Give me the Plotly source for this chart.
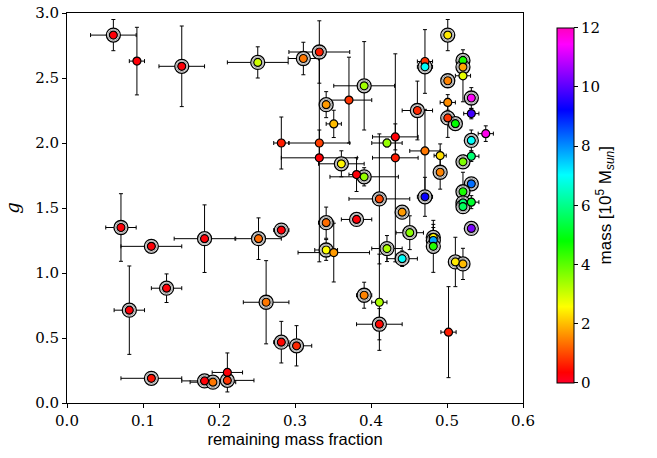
import plotly.graph_objects as go

# remaining mass fraction, g, errors, mass [1e5 Msun], ring flag
x = [0.061, 0.092, 0.151, 0.251, 0.311, 0.332, 0.341, 0.371, 0.351, 0.391,
     0.282, 0.332, 0.332, 0.361, 0.381, 0.391, 0.411, 0.432, 0.421, 0.432,
     0.461, 0.471, 0.471, 0.471, 0.471, 0.501, 0.501, 0.501, 0.501, 0.511,
     0.491, 0.491, 0.521, 0.521, 0.521, 0.532, 0.532, 0.551, 0.532, 0.532,
     0.521, 0.532, 0.521, 0.521, 0.521, 0.532, 0.532, 0.482, 0.482, 0.482,
     0.511, 0.521, 0.502, 0.441, 0.451, 0.441, 0.421, 0.411, 0.411, 0.391,
     0.381, 0.341, 0.341, 0.351, 0.282, 0.262, 0.282, 0.302, 0.252, 0.181,
     0.071, 0.111, 0.131, 0.082, 0.111, 0.181, 0.192, 0.211, 0.211]
g = [2.83, 2.63, 2.59, 2.62, 2.65, 2.70, 2.295, 2.33, 2.147, 2.44,
     2.00, 2.00, 1.886, 1.84, 1.757, 1.74, 1.57, 2.047, 2.00, 1.886,
     2.25, 2.627, 2.586, 1.939, 1.586, 2.83, 2.479, 2.312, 2.193, 2.149,
     1.903, 1.775, 2.635, 2.584, 2.517, 2.346, 2.226, 2.072, 2.02, 1.898,
     1.855, 1.686, 1.625, 1.54, 1.51, 1.545, 1.343, 1.274, 1.25, 1.205,
     1.085, 1.07, 0.545, 1.468, 1.31, 1.11, 1.188, 0.775, 0.606, 0.829,
     1.412, 1.387, 1.177, 1.157, 1.33, 0.775, 0.468, 0.44, 1.264, 1.264,
     1.35, 1.205, 0.883, 0.714, 0.19, 0.17, 0.16, 0.235, 0.174]
x_err = [0.03, 0.01, 0.03, 0.04, 0.02, 0.04, 0.005, 0.03, 0.01, 0.04,
         0.01, 0.04, 0.05, 0.03, 0.01, 0.045, 0.04, 0.03, 0.02, 0.03,
         0.02, 0.01, 0.01, 0.02, 0.01, 0.005, 0.005, 0.01, 0.005, 0.005,
         0.008, 0.005, 0.005, 0.005, 0.01, 0.005, 0.01, 0.01, 0.005, 0.01,
         0.005, 0.005, 0.005, 0.005, 0.005, 0.01, 0.005, 0.005, 0.005, 0.005,
         0.005, 0.005, 0.01, 0.005, 0.018, 0.02, 0.02, 0.01, 0.03, 0.01,
         0.02, 0.01, 0.015, 0.047, 0.01, 0.03, 0.01, 0.02, 0.03, 0.04,
         0.02, 0.04, 0.02, 0.02, 0.04, 0.03, 0.03, 0.02, 0.035]
g_err = [0.12, 0.26, 0.31, 0.12, 0.125, 0.24, 0.1, 0.33, 0.105, 0.34,
         0.2, 0.1, 0.8, 0.1, 0.13, 0.07, 0.5, 0.1, 0.03, 0.8,
         0.226, 0.245, 0.05, 0.32, 0.15, 0.12, 0.05, 0.06, 0.15, 0.04,
         0.09, 0.13, 0.05, 0.05, 0.2, 0.08, 0.04, 0.06, 0.08, 0.04,
         0.05, 0.04, 0.15, 0.05, 0.05, 0.05, 0.04, 0.1, 0.1, 0.2,
         0.19, 0.12, 0.35, 0.05, 0.13, 0.06, 0.1, 0.37, 0.12, 0.1,
         0.03, 0.12, 0.08, 0.226, 0.05, 0.32, 0.16, 0.155, 0.16, 0.26,
         0.26, 0.03, 0.11, 0.34, 0.04, 0.03, 0.03, 0.15, 0.04]
mass = [0.3, 0.3, 0.3, 3.0, 1.4, 0.6, 1.7, 0.8, 2.0, 3.4,
        0.6, 0.9, 0.3, 2.5, 0.3, 3.5, 1.0, 0.3, 3.5, 0.6,
        0.7, 0.8, 7.0, 1.4, 9.3, 2.4, 1.5, 1.6, 0.8, 4.8,
        2.3, 1.5, 4.6, 1.8, 2.8, 11.5, 9.8, 11.6, 7.0, 5.8,
        3.7, 8.3, 4.6, 5.8, 5.6, 5.2, 10.3, 2.5, 7.8, 4.5,
        2.4, 2.0, 0.6, 1.7, 3.6, 7.0, 3.3, 3.3, 0.4, 1.5,
        0.3, 1.3, 2.6, 1.7, 0.3, 1.4, 0.4, 0.7, 1.3, 0.3,
        0.3, 0.3, 0.3, 0.3, 0.5, 0.3, 1.4, 0.3, 0.8]
ring = [1, 0, 1, 1, 1, 1, 1, 0, 0, 1,
        0, 0, 0, 1, 0, 1, 1, 0, 0, 0,
        1, 0, 1, 0, 1, 1, 1, 0, 1, 1,
        0, 1, 1, 1, 0, 1, 0, 0, 1, 0,
        1, 1, 1, 1, 1, 0, 1, 1, 1, 1,
        1, 1, 0, 1, 1, 1, 1, 0, 1, 1,
        1, 1, 1, 0, 1, 1, 1, 1, 1, 1,
        1, 1, 1, 1, 1, 1, 1, 0, 1]

x_ticks = [0.0, 0.1, 0.2, 0.3, 0.4, 0.5, 0.6]
y_ticks = [0.0, 0.5, 1.0, 1.5, 2.0, 2.5, 3.0]
cb_ticks = [0, 2, 4, 6, 8, 10, 12]

gist_rainbow = [[0.0, 'rgb(255,0,41)'], [0.03, 'rgb(255,0,0)'], [0.215, 'rgb(255,255,0)'],
                [0.4, 'rgb(0,255,0)'], [0.586, 'rgb(0,255,255)'], [0.77, 'rgb(0,0,255)'],
                [0.954, 'rgb(255,0,255)'], [1.0, 'rgb(255,0,191)']]

serif = "DejaVu Serif"
sans = "Liberation Sans"

fig = go.Figure()

# error bars
fig.add_trace(go.Scatter(
    x=x, y=g, mode="markers",
    marker=dict(size=1, opacity=0),
    error_x=dict(type="data", array=x_err, color="black", thickness=1, width=2),
    error_y=dict(type="data", array=g_err, color="black", thickness=1, width=2),
    showlegend=False, hoverinfo="skip"))

rx = [xi for xi, r in zip(x, ring) if r]
ry = [yi for yi, r in zip(g, ring) if r]
# outer ring
fig.add_trace(go.Scatter(
    x=rx, y=ry, mode="markers",
    marker=dict(size=14, color="white", line=dict(color="black", width=1.3)),
    showlegend=False, hoverinfo="skip"))
fig.add_trace(go.Scatter(
    x=rx, y=ry, mode="markers",
    marker=dict(size=11, color="rgba(0,0,0,0)", line=dict(color="rgba(60,60,60,0.6)", width=0.8)),
    showlegend=False, hoverinfo="skip"))

# coloured markers
fig.add_trace(go.Scatter(
    x=x, y=g, mode="markers",
    marker=dict(size=8, color=mass, cmin=0, cmax=12, colorscale=gist_rainbow,
                line=dict(color="black", width=1.2),
                showscale=True,
                colorbar=dict(
                    x=1.0745, xanchor="left", xref="paper", xpad=0, ypad=0,
                    y=0.507, yanchor="middle", len=0.909, lenmode="fraction",
                    thickness=17, outlinecolor="black", outlinewidth=1,
                    tickmode="array", tickvals=cb_ticks, ticktext=[str(t) for t in cb_ticks],
                    ticks="outside", ticklen=4, tickcolor="black",
                    tickfont=dict(family=serif, size=15, color="black"),
                    title=dict(text="mass [10<sup>5</sup> M<sub><i>sun</i></sub>]", side="right",
                               font=dict(family=sans, size=17, color="black")))),
    showlegend=False))

fig.update_layout(
    width=657, height=458,
    margin=dict(l=66.5, r=134, t=13, b=54.5, autoexpand=False),
    paper_bgcolor="white", plot_bgcolor="white",
    xaxis=dict(range=[0, 0.6], tickmode="array", tickvals=x_ticks,
               ticktext=["%.1f" % t for t in x_ticks],
               ticks="outside", ticklen=4, tickcolor="black", automargin=False,
               ticklabeloverflow="allow",
               showline=True, linecolor="black", linewidth=1, mirror=True,
               showgrid=False, zeroline=False,
               tickfont=dict(family=serif, size=15, color="black"),
               title=dict(text="remaining mass fraction", standoff=4,
                          font=dict(family=sans, size=16.5, color="black"))),
    yaxis=dict(range=[0, 3.0], tickmode="array", tickvals=y_ticks,
               ticktext=["%.1f" % t for t in y_ticks],
               ticks="outside", ticklen=4, tickcolor="black", automargin=False,
               ticklabeloverflow="allow",
               showline=True, linecolor="black", linewidth=1, mirror=True,
               showgrid=False, zeroline=False,
               tickfont=dict(family=serif, size=15, color="black"),
               title=dict(text="<i>g</i>", standoff=10,
                          font=dict(family=serif, size=18, color="black"))),
)

# remove the default 8 px page margin so the figure fills the window exactly
fig.write_html("out.html", config={"displayModeBar": False},
               post_script="document.body.style.margin='0';")
